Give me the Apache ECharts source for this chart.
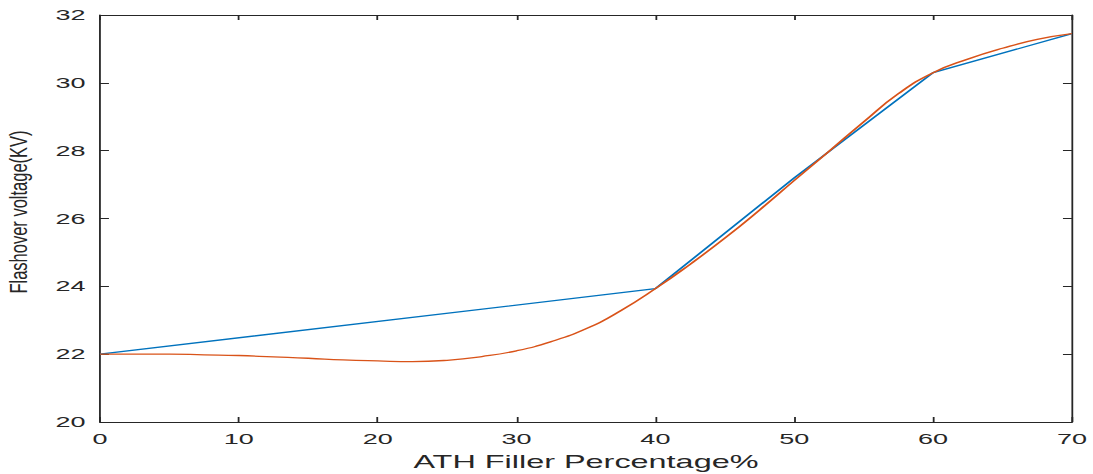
<!DOCTYPE html>
<html>
<head>
<meta charset="utf-8">
<script src="https://cdn.jsdelivr.net/npm/echarts@6/dist/echarts.min.js"></script>
<style>
  html, body { margin: 0; padding: 0; background: #ffffff; overflow: hidden; }
  #wrap { width: 1093px; height: 474px; overflow: hidden; }
  /* the figure is laid out narrow and stretched horizontally, like a resized MATLAB export */
  #chart { width: 607px; height: 474px; transform: scaleX(1.8007); transform-origin: 0 0; }
</style>
</head>
<body>
<div id="wrap"><div id="chart"></div></div>
<script>
// Measured flashover voltage (kV) at each ATH filler percentage
const fillerPct = [0, 40, 50, 60, 70];
const measuredKV = [22.0, 23.93, 27.2, 30.3, 31.45];

// Fitted curve through the measurements
const fitPct = [0, 2.5, 5, 7.5, 10, 12.5, 15, 17.5, 20, 22.5, 25, 27.5, 30, 32.5, 35, 37.5, 40, 42.5, 45, 47.5, 50, 52.5, 55, 57.5, 60, 62.5, 65, 67.5, 70];
const fitKV = [22.0, 22.0, 22.0, 21.98, 21.96, 21.92, 21.88, 21.83, 21.8, 21.78, 21.82, 21.93, 22.1, 22.37, 22.75, 23.28, 23.93, 24.65, 25.42, 26.25, 27.12, 27.98, 28.85, 29.68, 30.3, 30.7, 31.02, 31.28, 31.45];

const xTicks = [0, 10, 20, 30, 40, 50, 60, 70];
const yTicks = [20, 22, 24, 26, 28, 30, 32];
const xTitle = 'ATH Filler Percentage%';
const yTitle = 'Flashover voltage(KV)';

const axisColor = '#262626';
const fontFamily = '"Liberation Sans", Arial, Helvetica, sans-serif';

const chart = echarts.init(document.getElementById('chart'), null, { renderer: 'svg' });

const baseX = {
  type: 'value',
  min: xTicks[0],
  max: xTicks[xTicks.length - 1],
  interval: 10,
  axisLine: { show: true, onZero: false, lineStyle: { color: axisColor, width: 1 } },
  axisTick: { show: true, inside: true, length: 5, lineStyle: { color: axisColor } },
  splitLine: { show: false }
};
const baseY = {
  type: 'value',
  min: yTicks[0],
  max: yTicks[yTicks.length - 1],
  interval: 2,
  axisLine: { show: true, onZero: false, lineStyle: { color: axisColor, width: 1 } },
  axisTick: { show: true, inside: true, length: 5, lineStyle: { color: axisColor } },
  splitLine: { show: false }
};

chart.setOption({
  backgroundColor: '#ffffff',
  animation: false,
  grid: { left: 55.5, right: 11.7, top: 15, bottom: 52, containLabel: false, outerBoundsMode: 'none' },
  // vertical axis title, drawn as a rotated text with narrower glyphs
  graphic: [{
    type: 'text',
    x: 10.5,
    y: 212,
    rotation: Math.PI / 2,
    scaleX: 1,
    scaleY: 0.78,
    style: {
      text: yTitle,
      fill: axisColor,
      font: '16.5px ' + fontFamily,
      textAlign: 'center',
      textVerticalAlign: 'middle'
    }
  }],
  xAxis: [
    Object.assign({}, baseX, {
      position: 'bottom',
      name: xTitle,
      nameLocation: 'middle',
      nameGap: 31,
      nameTextStyle: { color: axisColor, fontSize: 18, fontFamily: fontFamily },
      axisLabel: { show: true, margin: 9, color: axisColor, fontSize: 15, fontFamily: fontFamily }
    }),
    Object.assign({}, baseX, {
      position: 'top',
      axisLabel: { show: false }
    })
  ],
  yAxis: [
    Object.assign({}, baseY, {
      position: 'left',
      axisLabel: { show: true, margin: 8, color: axisColor, fontSize: 15, fontFamily: fontFamily }
    }),
    Object.assign({}, baseY, {
      position: 'right',
      axisLabel: { show: false }
    })
  ],
  series: [
    {
      name: 'Measured',
      type: 'line',
      xAxisIndex: 0,
      yAxisIndex: 0,
      data: fillerPct.map((x, i) => [x, measuredKV[i]]),
      showSymbol: false,
      smooth: false,
      lineStyle: { color: '#0072BD', width: 1.3 },
      itemStyle: { color: '#0072BD' }
    },
    {
      name: 'Fit',
      type: 'line',
      xAxisIndex: 0,
      yAxisIndex: 0,
      data: fitPct.map((x, i) => [x, fitKV[i]]),
      showSymbol: false,
      smooth: true,
      lineStyle: { color: '#D95319', width: 1.3 },
      itemStyle: { color: '#D95319' }
    }
  ]
});
</script>
</body>
</html>
